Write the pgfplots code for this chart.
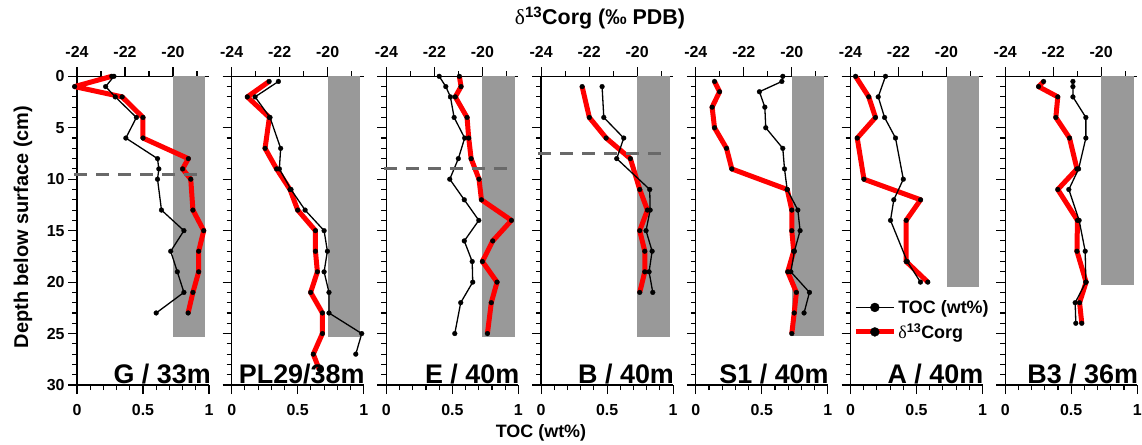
\documentclass[border=0pt]{standalone}
\usepackage{fontspec}
\setmainfont{Liberation Sans}
\newfontfamily\grk{Liberation Serif}
\usepackage{pgfplots}
\pgfplotsset{compat=1.18}

\definecolor{shade}{RGB}{153,153,153}
\definecolor{dashc}{RGB}{105,105,105}
\definecolor{dred}{RGB}{255,0,0}
\newcommand\ticks{\fontsize{16}{16}\selectfont\bfseries}
\newcommand\plabel{\fontsize{27}{27}\selectfont\bfseries}
\newcommand\lgfont{\fontsize{18}{20}\selectfont\bfseries}

\pgfplotsset{
  base/.style={scale only axis, width=132bp, height=308.7bp, anchor=south west,
    ymin=0, ymax=30, y dir=reverse, clip=false,
    tick align=outside, major tick length=9bp, minor tick length=5bp,
    every tick/.style={black, line width=1.1bp},
    axis line style={line width=1.3bp},
    tick label style={font=\ticks}},
  daxis/.style={base, xmin=-24, xmax=-18.5, axis x line*=top, axis y line*=left,
    xtick={-24,-22,-20}, xticklabels={-24,-22,-20}, minor xtick={-23,-21,-19},
    xticklabel style={yshift=6bp},
    ytick={0,5,...,30}, minor ytick={1,...,29}, yticklabels={}},
  taxis/.style={base, xmin=0, xmax=1, axis x line*=bottom, axis y line=none,
    ytick=\empty,
    xtick={0,0.5,1}, xticklabels={0,0.5,1},
    xticklabel style={yshift=-7bp},
    minor xtick={0.1,0.2,0.3,0.4,0.6,0.7,0.8,0.9}},
  toc/.style={black, line width=1.3bp, line join=round, mark=*, mark size=2.4bp,
    mark options={solid, draw=black, fill=black, line width=0.3bp}, forget plot},
  dC/.style={dred, line width=5bp, line join=round, mark=*, mark size=2.4bp,
    mark options={solid, draw=black, fill=black, line width=0.3bp}, forget plot},
  band/.style={fill=shade, draw=none, mark=none, forget plot},
  lim/.style={dashc, line width=3bp, dash pattern=on 13bp off 9bp, mark=none, forget plot},
}

\begin{document}
\begin{tikzpicture}
\useasboundingbox (0,0) rectangle (1142bp,445bp);

% ---------------- G / 33m ----------------
\begin{axis}[daxis, at={(77bp,60bp)}, yticklabels={0,5,10,15,20,25,30}]
\addplot[band] coordinates {(-20,0) (-18.65,0) (-18.65,25.3) (-20,25.3)} -- cycle;
\addplot[dC] coordinates {(-22.55,0) (-24.1,1) (-22.12,2) (-21.25,4) (-21.25,6) (-19.36,8)
  (-19.6,9) (-19.26,10) (-19.17,13) (-18.72,15) (-18.93,17) (-18.93,19) (-19.17,21) (-19.37,23)};
\end{axis}
\begin{axis}[taxis, at={(77bp,60bp)}]
\addplot[toc] coordinates {(0.28,0) (0.217,1) (0.29,2) (0.45,4) (0.37,6) (0.61,8) (0.62,9)
  (0.61,10) (0.64,13) (0.81,15) (0.71,17) (0.76,19) (0.81,21) (0.60,23)};
\addplot[lim] coordinates {(-0.02,9.5) (0.95,9.5)};
\node[anchor=base east, inner sep=0pt, font=\plabel] at (axis cs:1,30) [xshift=2bp, yshift=2bp] {G / 33m};
\end{axis}

% ---------------- PL29 / 38m ----------------
\begin{axis}[daxis, at={(231.7bp,60bp)}]
\addplot[band] coordinates {(-20,0) (-18.65,0) (-18.65,25.3) (-20,25.3)} -- cycle;
\addplot[dC] coordinates {(-22.44,0.5) (-23.35,2) (-22.43,4) (-22.61,7) (-22.13,9) (-21.57,11)
  (-21.25,13) (-20.51,15) (-20.51,17) (-20.43,19) (-20.71,21) (-20.22,23) (-20.22,25) (-20.6,27) (-20.35,28.5)};
\end{axis}
\begin{axis}[taxis, at={(231.7bp,60bp)}]
\addplot[toc] coordinates {(0.354,0.5) (0.177,2) (0.29,4) (0.371,7) (0.361,9) (0.449,11) (0.556,13)
  (0.70,15) (0.725,17) (0.70,19) (0.737,21) (0.737,23) (0.985,25) (0.94,27)};
\node[anchor=base east, inner sep=0pt, font=\plabel] at (axis cs:1,30) [xshift=1bp, yshift=2bp] {PL29/38m};
\end{axis}

% ---------------- E / 40m ----------------
\begin{axis}[daxis, at={(386.4bp,60bp)}]
\addplot[band] coordinates {(-20,0) (-18.65,0) (-18.65,25.3) (-20,25.3)} -- cycle;
\addplot[dC] coordinates {(-20.96,0) (-20.89,1) (-21.13,2) (-20.64,4) (-20.57,6) (-20.47,8) (-20.14,10)
  (-20.04,12) (-18.79,14) (-19.57,16) (-20.0,18) (-19.39,20) (-19.63,22) (-19.79,25)};
\end{axis}
\begin{axis}[taxis, at={(386.4bp,60bp)}]
\addplot[toc] coordinates {(0.40,0) (0.45,1) (0.485,2) (0.513,4) (0.593,6) (0.545,8) (0.48,10)
  (0.59,12) (0.70,14) (0.59,16) (0.65,18) (0.654,20) (0.563,22) (0.518,25)};
\addplot[lim] coordinates {(-0.02,9) (0.95,9)};
\node[anchor=base east, inner sep=0pt, font=\plabel] at (axis cs:1,30) [xshift=1bp, yshift=2bp] {E / 40m};
\end{axis}

% ---------------- B / 40m ----------------
\begin{axis}[daxis, at={(541.1bp,60bp)}]
\addplot[band] coordinates {(-20,0) (-18.65,0) (-18.65,25.3) (-20,25.3)} -- cycle;
\addplot[dC] coordinates {(-22.29,1) (-21.99,4) (-21.29,6) (-20.28,8) (-19.89,11) (-19.57,13)
  (-19.89,15) (-19.68,17) (-19.68,19) (-19.89,21)};
\end{axis}
\begin{axis}[taxis, at={(541.1bp,60bp)}]
\addplot[toc] coordinates {(0.462,1) (0.475,4) (0.626,6) (0.573,8) (0.823,11) (0.826,13)
  (0.795,15) (0.841,17) (0.818,19) (0.846,21)};
\addplot[lim] coordinates {(-0.02,7.5) (0.95,7.5)};
\node[anchor=base east, inner sep=0pt, font=\plabel] at (axis cs:1,30) [xshift=1bp, yshift=2bp] {B / 40m};
\end{axis}

% ---------------- S1 / 40m ----------------
\begin{axis}[daxis, at={(695.8bp,60bp)}]
\addplot[band] coordinates {(-20,0) (-18.65,0) (-18.65,25.2) (-20,25.2)} -- cycle;
\addplot[dC] coordinates {(-23.22,0.5) (-23.01,1.5) (-23.32,3) (-23.22,5) (-22.72,7) (-22.5,9)
  (-20.19,11) (-20.0,13) (-20.0,15) (-19.92,17) (-20.17,19) (-19.81,21) (-19.90,23) (-20.0,25)};
\end{axis}
\begin{axis}[taxis, at={(695.8bp,60bp)}]
\addplot[toc] coordinates {(0.659,0) (0.652,0.5) (0.482,1.5) (0.523,3) (0.53,5) (0.659,7) (0.672,9)
  (0.692,11) (0.773,13) (0.79,15) (0.747,17) (0.72,19) (0.861,21) (0.82,23)};
\node[anchor=base east, inner sep=0pt, font=\plabel] at (axis cs:1,30) [xshift=1bp, yshift=2bp] {S1 / 40m};
\end{axis}

% ---------------- A / 40m ----------------
\begin{axis}[daxis, at={(850.5bp,60bp)}]
\addplot[band] coordinates {(-20,0) (-18.65,0) (-18.65,20.5) (-20,20.5)} -- cycle;
\addplot[dC] coordinates {(-23.79,0) (-23.24,2) (-22.96,4) (-23.72,6) (-23.44,10) (-21.08,12)
  (-21.68,14) (-21.68,18) (-20.78,20)};
\end{axis}
\begin{axis}[taxis, at={(850.5bp,60bp)},
  legend style={at={(axis description cs:0.02,0.21)}, anchor=west, draw=none, fill=none,
    font=\lgfont, nodes={font=\lgfont}, inner sep=0pt, row sep=5bp,
    cells={anchor=west}},
  legend image code/.code={\draw[mark repeat=2, mark phase=2, #1]
    plot coordinates {(0bp,0bp) (19bp,0bp) (38bp,0bp)};}]
\addlegendimage{black, line width=1.3bp, mark=*, mark size=4.5bp, mark options={fill=black, line width=0.3bp}}
\addlegendimage{dred, line width=5bp, mark=*, mark size=4.5bp, mark options={draw=black, fill=black, line width=0.3bp}}
\legend{{\lgfont TOC (wt\%)}, {\lgfont{\grk\mdseries δ}\textsuperscript{13}Corg}}
\addplot[toc] coordinates {(0.265,0) (0.21,2) (0.258,4) (0.341,6) (0.40,10) (0.328,12) (0.303,14)
  (0.43,18) (0.53,20)};
\node[anchor=base east, inner sep=0pt, font=\plabel] at (axis cs:1,30) [xshift=1bp, yshift=2bp] {A / 40m};
\end{axis}

% ---------------- B3 / 36m ----------------
\begin{axis}[daxis, at={(1005.2bp,60bp)}]
\addplot[band] coordinates {(-20,0) (-18.65,0) (-18.65,20.3) (-20,20.3)} -- cycle;
\addplot[dC] coordinates {(-22.40,0.5) (-22.61,1) (-21.81,2) (-21.89,4) (-21.32,6) (-21.01,9)
  (-21.81,11) (-20.99,14) (-21.01,17) (-20.63,20) (-20.90,22) (-20.81,24)};
\end{axis}
\begin{axis}[taxis, at={(1005.2bp,60bp)}]
\addplot[toc] coordinates {(0.513,0.5) (0.513,1) (0.513,2) (0.611,4) (0.611,6) (0.556,9) (0.482,11)
  (0.56,14) (0.606,17) (0.611,20) (0.53,22) (0.535,24)};
\node[anchor=base east, inner sep=0pt, font=\plabel] at (axis cs:1,30) [xshift=1bp, yshift=2bp] {B3 / 36m};
\end{axis}

% axis titles
\node[font=\fontsize{21.5}{21.5}\selectfont\bfseries] at (600bp,427bp)
  {{\grk\mdseries δ}\textsuperscript{13}Corg (‰ PDB)};
\node[font=\fontsize{18}{18}\selectfont\bfseries] at (541bp,12bp) {TOC (wt\%)};
\node[font=\fontsize{20}{20}\selectfont\bfseries, rotate=90] at (23bp,218bp) {Depth below surface (cm)};
\end{tikzpicture}
\end{document}
